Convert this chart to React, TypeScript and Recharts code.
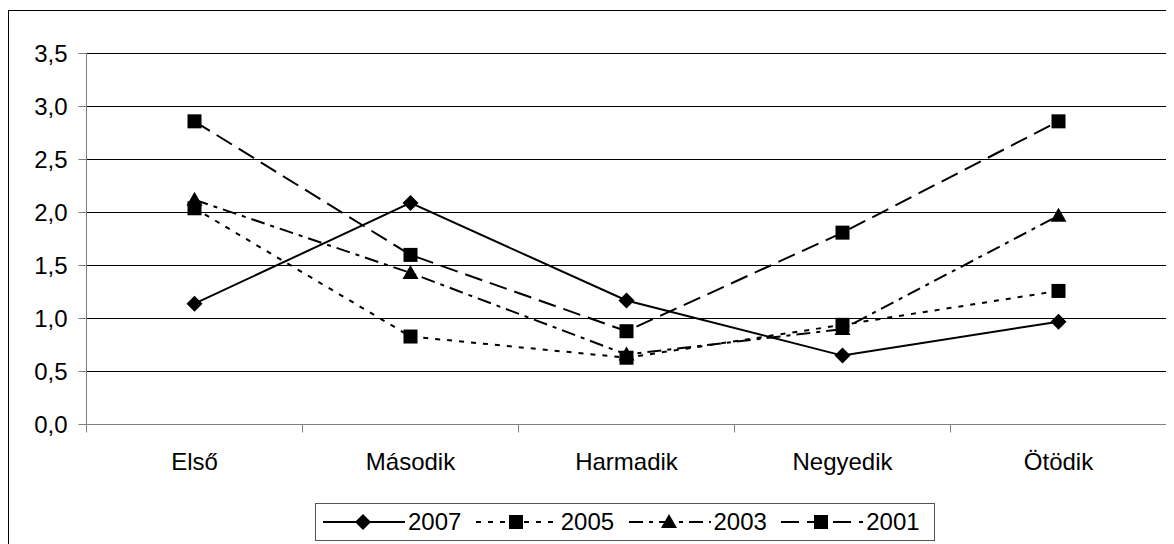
import React from 'react';
import { LineChart, Line, XAxis, YAxis, CartesianGrid, Legend } from 'recharts';

const categories = ['Első', 'Második', 'Harmadik', 'Negyedik', 'Ötödik'];
const s2007 = [1.14, 2.09, 1.17, 0.65, 0.97];
const s2005 = [2.04, 0.83, 0.63, 0.94, 1.26];
const s2003 = [2.12, 1.43, 0.66, 0.9, 1.97];
const s2001 = [2.86, 1.6, 0.88, 1.81, 2.86];
const yTicks = [0, 0.5, 1, 1.5, 2, 2.5, 3, 3.5];

const seriesDefs = [
  { key: 'y2007', name: '2007', values: s2007, dash: undefined as string | undefined, marker: 'diamond' },
  { key: 'y2005', name: '2005', values: s2005, dash: '5 7', marker: 'square' },
  { key: 'y2003', name: '2003', values: s2003, dash: '14 6 4 6', marker: 'triangle' },
  { key: 'y2001', name: '2001', values: s2001, dash: '18 8', marker: 'square' },
];

const data = categories.map((c, i) => {
  const row: any = { cat: c };
  seriesDefs.forEach((s) => (row[s.key] = s.values[i]));
  return row;
});

if (typeof document !== 'undefined') {
  document.documentElement.style.overflow = 'hidden';
  document.body.style.overflow = 'hidden';
}

const FONT = '"Liberation Sans", Arial, sans-serif';
const TICK_SIZE = 8;
const X_TICK_MARGIN = 20;
const AXIS_COLOR = '#808080';

function Marker({ type, cx, cy }: { type: string; cx: number; cy: number }) {
  if (type === 'diamond') {
    return (
      <polygon
        points={`${cx},${cy - 8} ${cx + 8},${cy} ${cx},${cy + 8} ${cx - 8},${cy}`}
        fill="#000"
      />
    );
  }
  if (type === 'triangle') {
    return <polygon points={`${cx},${cy - 8} ${cx + 8},${cy + 6} ${cx - 8},${cy + 6}`} fill="#000" />;
  }
  return <rect x={cx - 7} y={cy - 7} width={14} height={14} fill="#000" />;
}

const CatTick = (props: any) => {
  const { x, y, payload, index, visibleTicksCount, width } = props;
  const count = visibleTicksCount || categories.length;
  const half = width ? width / count / 2 : payload.offset || 0;
  const axisY = y - TICK_SIZE - X_TICK_MARGIN;
  return (
    <g>
      <line x1={x - half} x2={x - half} y1={axisY} y2={axisY + TICK_SIZE} stroke={AXIS_COLOR} />
      {index === count - 1 && (
        <line x1={x + half} x2={x + half} y1={axisY} y2={axisY + TICK_SIZE} stroke={AXIS_COLOR} />
      )}
      <text x={x} y={y} dy="0.71em" textAnchor="middle" fill="#000" fontSize={24} fontFamily={FONT}>
        {payload.value}
      </text>
    </g>
  );
};

const LegendContent = () => (
  <div
    style={{
      boxSizing: 'border-box',
      width: 620,
      height: 38,
      border: '1px solid #555',
      background: '#fff',
      display: 'flex',
      alignItems: 'center',
      paddingLeft: 7,
      fontFamily: FONT,
      fontSize: 24,
      color: '#000',
    }}
  >
    {seriesDefs.map((s) => (
      <div key={s.key} style={{ display: 'flex', alignItems: 'center', width: 155 }}>
        <svg width={82} height={20} style={{ display: 'block' }}>
          <line x1={0} x2={82} y1={10} y2={10} stroke="#000" strokeWidth={2} strokeDasharray={s.dash} />
          <Marker type={s.marker} cx={40} cy={10} />
        </svg>
        <span style={{ marginLeft: 3, lineHeight: '24px' }}>{s.name}</span>
      </div>
    ))}
  </div>
);

export default function App() {
  return (
    <div
      style={{
        position: 'relative',
        top: 2,
        width: 1165,
        height: 540,
        borderTop: '1px solid #000',
        borderLeft: '1px solid #000',
        background: '#fff',
      }}
    >
      <LineChart
        width={1165}
        height={540}
        data={data}
        margin={{ top: 42.5, right: 7.5, left: 0.5, bottom: 8.5 }}
      >
        <CartesianGrid horizontal vertical={false} stroke="#000" strokeWidth={1} />
        <XAxis
          dataKey="cat"
          scale="band"
          height={80}
          axisLine={{ stroke: AXIS_COLOR }}
          tickLine={false}
          tickSize={TICK_SIZE}
          tickMargin={X_TICK_MARGIN}
          tick={<CatTick />}
          interval={0}
        />
        <YAxis
          width={77}
          domain={[0, 3.5]}
          ticks={yTicks}
          interval={0}
          axisLine={{ stroke: AXIS_COLOR }}
          tickLine={{ stroke: AXIS_COLOR }}
          tickSize={TICK_SIZE}
          tickMargin={11}
          tick={{ fill: '#000', fontSize: 24, fontFamily: FONT }}
          tickFormatter={(v: number) => v.toFixed(1).replace('.', ',')}
        />
        <Legend
          verticalAlign="bottom"
          content={<LegendContent />}
          wrapperStyle={{ left: 306, width: 620, height: 38, top: 492, bottom: 'auto' }}
        />
        {seriesDefs.map((s) => (
          <Line
            key={s.key}
            dataKey={s.key}
            name={s.name}
            stroke="#000"
            strokeWidth={2}
            strokeDasharray={s.dash}
            isAnimationActive={false}
            activeDot={false}
            dot={(p: any) => <Marker key={`${s.key}-${p.index}`} type={s.marker} cx={p.cx} cy={p.cy} />}
          />
        ))}
      </LineChart>
    </div>
  );
}
